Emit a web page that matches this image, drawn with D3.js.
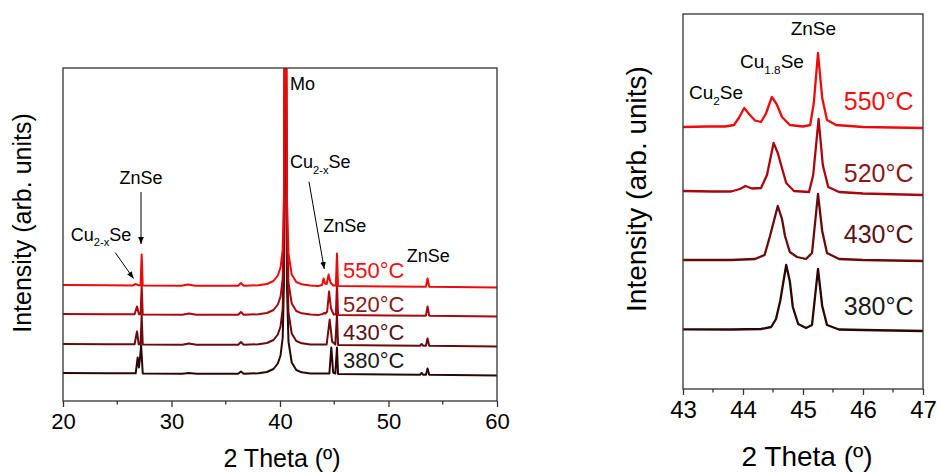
<!DOCTYPE html>
<html>
<head>
<meta charset="utf-8">
<script src="https://cdn.jsdelivr.net/npm/d3@7"></script>
<style>
  body { margin: 0; background: #fff; }
  svg { display: block; font-family: Arial, "Liberation Sans", sans-serif; }
</style>
</head>
<body>
<svg width="937" height="472"></svg>
<script>
// XRD patterns of the films, four annealing temperatures, stacked with offsets

const temps = ["380°C", "430°C", "520°C", "550°C"];
const lineColors = ["#2a0606", "#6a0b0b", "#a8070f", "#ee0a0a"];
const labelColors = ["#1a1a1a", "#5a1212", "#8a1a1a", "#f01010"];

// wide scan, 2theta vs intensity (arb.), before stacking
const moPeak = [[38.0, 2.2], [38.8, 3.5], [39.4, 6.5], [39.8, 12], [40.05, 20], [40.25, 38], [40.36, 90],
  [40.44, 300], [40.5, 400], [40.56, 300], [40.64, 90], [40.78, 34], [41.08, 13], [41.5, 5.5], [42.0, 3.2], [42.8, 2]];

const wide380 = [[20, 2.5], [24, 2.3], [26.7, 2.2], [26.88, 18], [27.0, 8], [27.1, 18], [27.2, 30], [27.35, 2],
  [31.0, 1.8], [31.6, 2.5], [32.3, 1.8], [36.15, 1.8], [36.4, 4], [36.65, 1.8]]
  .concat(moPeak, [[44.55, 2], [44.73, 28], [44.9, 3], [45.1, 2], [45.25, 28], [45.35, 1.6], [50, 1],
  [52.9, 0.8], [53.05, 2.5], [53.2, 0.8], [53.45, 0.8], [53.6, 7], [53.75, 0.8], [60, 0]]);

const wide430 = [[20, 2.5], [24, 2.3], [26.6, 2.2], [26.82, 15], [26.98, 2.2], [27.15, 2.2], [27.25, 31], [27.35, 2],
  [31.0, 1.8], [31.6, 3], [32.3, 1.8], [36.15, 1.8], [36.4, 4.5], [36.65, 1.8]]
  .concat(moPeak, [[44.3, 2], [44.58, 27], [44.8, 5], [45.1, 2], [45.25, 32], [45.35, 1.6], [50, 1],
  [52.9, 0.8], [53.05, 2.5], [53.2, 0.8], [53.45, 0.8], [53.6, 8], [53.75, 0.8], [60, 0]]);

const wide520 = [[20, 2.5], [24, 2.3], [26.6, 2.2], [26.82, 10], [27.0, 2.2], [27.15, 2.2], [27.25, 31], [27.35, 2],
  [31.0, 1.8], [31.6, 3], [32.3, 1.8], [36.15, 1.8], [36.4, 4.5], [36.65, 1.8]]
  .concat(moPeak, [[43.6, 1.6], [43.95, 2.5], [44.05, 3.5], [44.2, 3], [44.35, 5], [44.52, 25], [44.7, 8],
  [44.95, 2], [45.15, 2], [45.25, 33], [45.35, 1.6], [50, 1], [53.45, 0.8], [53.6, 10], [53.75, 0.8], [60, 0]]);

const wide550 = [[20, 2.5], [24, 2.3], [26.4, 2], [26.7, 3.5], [26.95, 2.2], [27.15, 2.2], [27.25, 33], [27.35, 2],
  [30.9, 1.8], [31.5, 3], [32.2, 1.8], [36.15, 1.8], [36.4, 4.5], [36.65, 1.8]]
  .concat(moPeak, [[43.5, 1.6], [43.88, 2.5], [44.02, 9], [44.15, 4], [44.3, 3.5], [44.48, 13], [44.65, 5],
  [44.9, 2], [45.15, 2], [45.25, 34], [45.35, 1.6], [50, 1], [53.45, 0.8], [53.6, 9], [53.75, 0.8], [60, 0]]);

const wideOffsets = [25.5, 54.5, 84.5, 113.5];

// zoomed scan 43-47
const zoom380 = [[43, 1.7], [43.8, 1.5], [44.3, 2], [44.47, 4], [44.55, 12], [44.62, 30], [44.72, 66], [44.78, 50],
  [44.83, 24], [44.92, 7], [45.05, 3], [45.15, 6], [45.25, 62], [45.32, 25], [45.4, 6], [45.6, 1.5], [46, 1], [47, 0]];
const zoom430 = [[43, 1], [43.8, 1], [44.2, 2], [44.36, 6], [44.45, 25], [44.58, 55], [44.65, 42], [44.7, 25],
  [44.78, 9], [44.9, 4], [45.05, 2], [45.15, 8], [45.25, 67], [45.32, 30], [45.4, 8], [45.6, 2], [46, 1], [47, 0]];
const zoom520 = [[43, 4], [43.5, 3.5], [43.8, 3.5], [43.95, 6], [44.04, 9], [44.15, 6.5], [44.3, 7], [44.4, 20],
  [44.51, 52], [44.58, 42], [44.64, 29], [44.72, 12], [44.85, 4], [45.1, 3], [45.17, 20], [45.26, 76], [45.33, 30],
  [45.42, 8], [45.6, 3], [46, 1.5], [47, 0]];
const zoom550 = [[43, 1], [43.4, 1.5], [43.7, 1.5], [43.85, 3], [43.93, 10], [44.02, 20], [44.1, 14], [44.2, 7.5],
  [44.3, 6], [44.38, 14], [44.48, 31], [44.56, 24], [44.65, 11], [44.78, 3], [45.0, 1.5], [45.12, 3], [45.18, 25],
  [45.25, 75], [45.32, 30], [45.4, 8], [45.55, 3], [46, 1], [47, 0]];
const zoomOffsets = [58, 128, 194, 261];

const wideTicks = [20, 30, 40, 50, 60];
const wideMinor = [25, 35, 45, 55];
const zoomTicks = [43, 44, 45, 46, 47];
const zoomMinor = [43.5, 44.5, 45.5, 46.5];

const svg = d3.select("svg");

svg.append("defs").append("marker")
    .attr("id", "arrow")
    .attr("viewBox", "0 -5 10 10")
    .attr("refX", 10)
    .attr("refY", 0)
    .attr("markerWidth", 7)
    .attr("markerHeight", 7)
    .attr("markerUnits", "userSpaceOnUse")
    .attr("orient", "auto")
  .append("path")
    .attr("d", "M0,-4L10,0L0,4Z")
    .attr("fill", "#000");

function drawPanel(p) {
  const x = d3.scaleLinear().domain(p.xDomain).range([p.left, p.right]);
  const y = d3.scaleLinear().domain([0, p.bottom - p.top]).range([p.bottom, p.top]);

  const clipId = "clip-" + p.id;
  svg.append("clipPath").attr("id", clipId)
    .append("rect")
      .attr("x", p.left).attr("y", p.top)
      .attr("width", p.right - p.left).attr("height", p.bottom - p.top);

  const line = d3.line()
      .x(d => x(d[0]))
      .y(d => y(d[1]));

  const g = svg.append("g").attr("clip-path", `url(#${clipId})`);
  // lowest trace first, the red 550 one ends up on top
  p.series.forEach((s, i) => {
    const off = p.offsets[i];
    g.append("path")
      .datum(s.map(d => [d[0], d[1] + off]))
      .attr("fill", "none")
      .attr("stroke", lineColors[i])
      .attr("stroke-width", p.lineWidth)
      .attr("stroke-linejoin", "round")
      .attr("d", line);
  });

  // frame
  svg.append("rect")
    .attr("x", p.left).attr("y", p.top)
    .attr("width", p.right - p.left).attr("height", p.bottom - p.top)
    .attr("fill", "none").attr("stroke", "#333").attr("stroke-width", 1.3);

  // bottom axis, ticks outward
  const ax = svg.append("g")
    .attr("transform", `translate(0,${p.bottom})`)
    .call(d3.axisBottom(x).tickValues(p.ticks).tickSize(6).tickSizeOuter(0).tickPadding(6)
      .tickFormat(d3.format("d")));
  ax.select(".domain").remove();
  ax.selectAll("line").attr("stroke", "#333").attr("stroke-width", 1.3);
  ax.selectAll("text")
    .attr("font-size", p.tickFont)
    .attr("fill", "#000")
    .attr("font-family", "Arial, 'Liberation Sans', sans-serif");

  svg.append("g").selectAll("line")
    .data(p.minor).join("line")
      .attr("x1", d => x(d)).attr("x2", d => x(d))
      .attr("y1", p.bottom).attr("y2", p.bottom + 3.5)
      .attr("stroke", "#333").attr("stroke-width", 1.3);

  svg.append("text")
    .attr("x", (p.left + p.right) / 2 + p.xTitleShift)
    .attr("y", p.xTitleY)
    .attr("text-anchor", "middle")
    .attr("font-size", p.titleFont)
    .text("2 Theta (º)");

  svg.append("text")
    .attr("transform", `translate(${p.yTitleX},${p.yTitleCenter}) rotate(-90)`)
    .attr("text-anchor", "middle")
    .attr("font-size", p.titleFont)
    .text("Intensity (arb. units)");

  // temperature labels
  svg.append("g").selectAll("text")
    .data(temps).join("text")
      .attr("x", x(p.tempX))
      .attr("y", (d, i) => y(p.tempY[i]))
      .attr("font-size", p.tempFont)
      .attr("fill", (d, i) => labelColors[i])
      .text(d => d);

  return { x, y };
}

function phaseLabel(x, y, main, sub, tail, size, anchor) {
  const t = svg.append("text")
    .attr("x", x).attr("y", y)
    .attr("font-size", size)
    .attr("text-anchor", anchor || "start");
  t.append("tspan").text(main);
  if (sub) {
    t.append("tspan").attr("font-size", size * 0.62).attr("dy", size * 0.3).text(sub);
    t.append("tspan").attr("dy", -size * 0.3).text(tail);
  }
}

function arrow(x1, y1, x2, y2) {
  svg.append("line")
    .attr("x1", x1).attr("y1", y1).attr("x2", x2).attr("y2", y2)
    .attr("stroke", "#000").attr("stroke-width", 1)
    .attr("marker-end", "url(#arrow)");
}

// left: wide scan
const L = drawPanel({
  id: "wide", xDomain: [20, 60], left: 63, right: 497, top: 68, bottom: 401,
  series: [wide380, wide430, wide520, wide550], offsets: wideOffsets, lineWidth: 2,
  ticks: wideTicks, minor: wideMinor, tickFont: 22, titleFont: 25,
  xTitleY: 467, xTitleShift: 2, yTitleX: 31, yTitleCenter: 223,
  tempX: 45.8, tempY: [33, 61, 89.3, 123], tempFont: 22
});

phaseLabel(L.x(40.92), L.y(311), "Mo", null, null, 18);
phaseLabel(L.x(27.19), L.y(217), "ZnSe", null, null, 18, "middle");
arrow(L.x(27.19), L.y(209), L.x(27.19), L.y(157));
phaseLabel(L.x(20.71), L.y(160.3), "Cu", "2-x", "Se", 18);
arrow(L.x(24.82), L.y(148.3), L.x(26.5), L.y(122.5));
phaseLabel(L.x(40.92), L.y(232.7), "Cu", "2-x", "Se", 18);
arrow(L.x(42.67), L.y(219.3), L.x(44.08), L.y(132));
phaseLabel(L.x(43.99), L.y(168.7), "ZnSe", null, null, 18);
phaseLabel(L.x(51.68), L.y(139.3), "ZnSe", null, null, 18);

// right: 43-47 zoom
const R = drawPanel({
  id: "zoom", xDomain: [43, 47], left: 683, right: 923, top: 14, bottom: 389,
  series: [zoom380, zoom430, zoom520, zoom550], offsets: zoomOffsets, lineWidth: 2.3,
  ticks: zoomTicks, minor: zoomMinor, tickFont: 24, titleFont: 28,
  xTitleY: 466, xTitleShift: 4, yTitleX: 646, yTitleCenter: 189,
  tempX: 45.68, tempY: [74, 146, 207.3, 279], tempFont: 25
});

phaseLabel(R.x(44.795), R.y(354), "ZnSe", null, null, 19);
phaseLabel(R.x(43.95), R.y(320.7), "Cu", "1.8", "Se", 19);
phaseLabel(R.x(43.1), R.y(289.7), "Cu", "2", "Se", 19);
</script>
</body>
</html>
